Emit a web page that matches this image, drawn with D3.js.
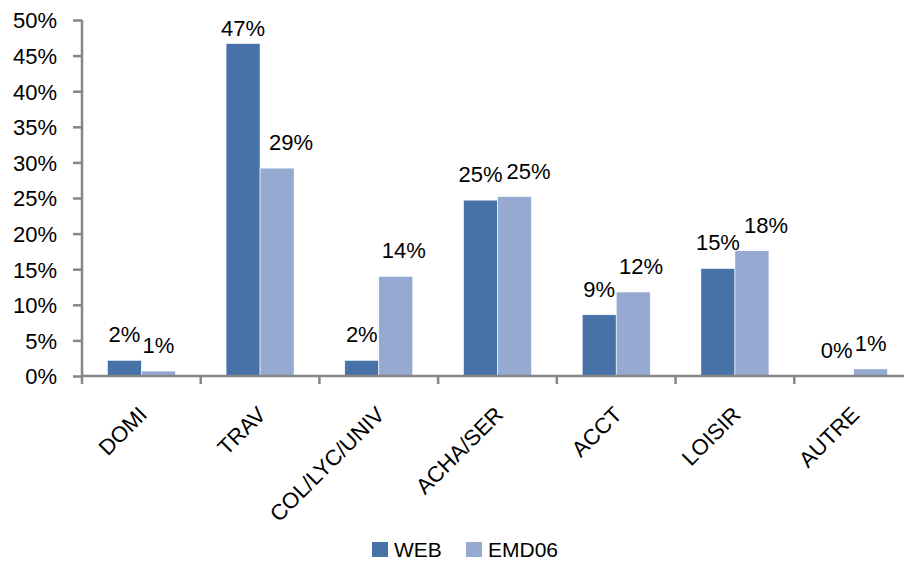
<!DOCTYPE html>
<html><head><meta charset="utf-8">
<script src="https://cdn.jsdelivr.net/npm/d3@7"></script>
<style>body{margin:0;background:#fff}svg{display:block}text{font-family:"Liberation Sans",Arial,sans-serif;fill:#000}</style>
</head><body><svg id="c" width="904" height="562"></svg>
<script>
const categories = ["DOMI","TRAV","COL/LYC/UNIV","ACHA/SER","ACCT","LOISIR","AUTRE"];
const seriesNames = ["WEB","EMD06"];
const webValues = [2.2,46.7,2.2,24.7,8.6,15.1,0];
const emdValues = [0.7,29.2,14.0,25.2,11.8,17.6,1.0];
const webLabels = ["2%","47%","2%","25%","9%","15%","0%"];
const emdLabels = ["1%","29%","14%","25%","12%","18%","1%"];
const yTicks = [0,5,10,15,20,25,30,35,40,45,50];
const colors = ["#4672a8","#95a9d1"];
const FS = 22;

const svg = d3.select("#c");
const pLeft = 82, pRight = 913, pTop = 20, pBottom = 376;
const x = d3.scaleBand().domain(categories).range([pLeft, pRight]).padding(0);
const groupW = x.bandwidth() * 0.573;
const xs = d3.scaleBand().domain(seriesNames).range([0, groupW]);
const y = d3.scaleLinear().domain([0, 50]).range([pBottom, pTop]);

// y axis
const yAxis = svg.append("g").attr("transform", `translate(${pLeft},0)`)
  .call(d3.axisLeft(y).tickValues(yTicks).tickSize(9).tickPadding(16).tickFormat(d => d + "%"));
yAxis.selectAll("line").attr("stroke", "#868686").attr("stroke-width", 2.5);
yAxis.select(".domain").attr("stroke", "#868686").attr("stroke-width", 2.5).attr("d", `M0,${pTop}V${pBottom}`);
yAxis.selectAll("text").attr("font-size", FS).attr("font-family", "Liberation Sans").attr("dy", "0.36em");

// bars
const data = categories.map((c, i) => ({c, vals: [webValues[i], emdValues[i]], labs: [webLabels[i], emdLabels[i]]}));
const g = svg.append("g");
data.forEach(d => {
  const x0 = x(d.c) + (x.bandwidth() - groupW) / 2;
  const texts = [];
  seriesNames.forEach((s, j) => {
    const v = d.vals[j];
    if (v > 0) {
      g.append("rect").attr("x", x0 + xs(s)).attr("y", y(v))
        .attr("width", xs.bandwidth()).attr("height", pBottom - y(v))
        .attr("fill", colors[j]).attr("stroke", "#fff").attr("stroke-width", 0.6);
    }
    texts.push(g.append("text").attr("x", x0 + xs(s) + xs.bandwidth() / 2)
      .attr("y", Math.max(y(v) - 18, 36))
      .attr("text-anchor", "middle").attr("font-size", FS).text(d.labs[j]));
  });
  // avoid overlap: push second label right
  const w0 = texts[0].node().getComputedTextLength(), w1 = texts[1].node().getComputedTextLength();
  const r0 = +texts[0].attr("x") + w0 / 2, l1 = +texts[1].attr("x") - w1 / 2;
  if (l1 < r0) texts[1].attr("x", +texts[1].attr("x") + (r0 - l1) + 4);
});

// x axis
const xAxis = svg.append("g").attr("transform", `translate(0,${pBottom})`)
  .call(d3.axisBottom(x).tickSize(0).tickFormat(""));
xAxis.select(".domain").attr("stroke", "#868686").attr("stroke-width", 2.5).attr("d", `M${pLeft},0H${pRight}`);
const xt = svg.append("g");
categories.forEach((c, i) => {
  const tx = x(c);
  xt.append("line").attr("x1", tx).attr("x2", tx).attr("y1", pBottom).attr("y2", pBottom + 8)
    .attr("stroke", "#868686").attr("stroke-width", 2.5);
});
xt.append("line").attr("x1", pRight).attr("x2", pRight).attr("y1", pBottom).attr("y2", pBottom + 8)
  .attr("stroke", "#868686").attr("stroke-width", 2.5);
categories.forEach(c => {
  const cx = x(c) + x.bandwidth() / 2;
  svg.append("text").attr("transform", `translate(${cx + 7},${416}) rotate(-45)`)
    .attr("text-anchor", "end").attr("font-size", FS).text(c);
});

// legend
const lg = svg.append("g");
const legX = [372, 466];
seriesNames.forEach((s, j) => {
  lg.append("rect").attr("x", legX[j]).attr("y", 542).attr("width", 16).attr("height", 15).attr("fill", colors[j]);
  lg.append("text").attr("x", legX[j] + 22).attr("y", 557).attr("font-size", 21).text(s);
});
</script></body></html>
